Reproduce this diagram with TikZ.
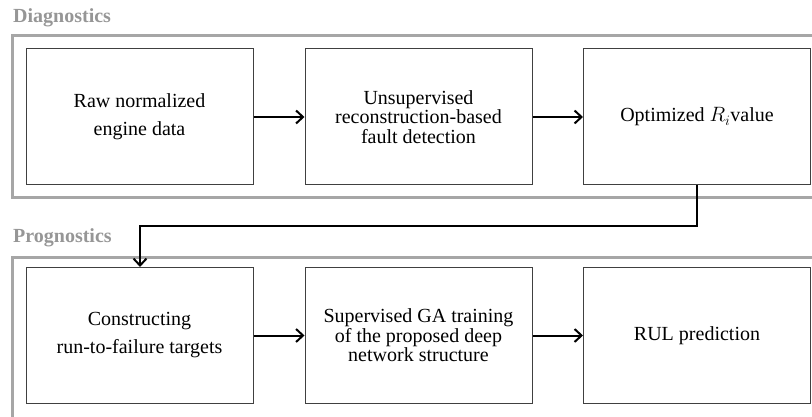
\documentclass[tikz,border=0pt]{standalone}
\usepackage{fontspec}
\setmainfont{Liberation Serif}
\usetikzlibrary{arrows.meta}

\definecolor{frame-gray}{RGB}{166,166,166}
\definecolor{label-gray}{RGB}{150,150,150}
\definecolor{box-gray}{RGB}{64,64,64}

\tikzset{
    stage/.style={draw=box-gray, line width=1pt, minimum width=227pt, minimum height=136pt,
        inner sep=0pt, align=center, font=\fontsize{20}{28}\selectfont},
    tight/.style={font=\fontsize{20}{19.5}\selectfont},
    group-frame/.style={draw=frame-gray, line width=3pt},
    group-label/.style={anchor=base west, inner sep=0pt, text=label-gray,
        font=\fontsize{20}{24}\selectfont\bfseries},
    flow/.style={line width=2pt, -{Straight Barb[length=7pt,width=13pt]}}
}

\begin{document}
\begin{tikzpicture}[x=1pt, y=-1pt]
        \useasboundingbox (0, 0) rectangle (812, 417);
        \clip (0, 0) rectangle (812, 417);

        % group frames, open to the right and bottom
        \draw[group-frame] (12, 36) rectangle (840, 198);
        \node[group-label] (diagnostics-label) at (13, 23) {Diagnostics};

        \draw[group-frame] (12, 257) rectangle (840, 450);
        \node[group-label] (prognostics-label) at (13, 243) {Prognostics};

        % diagnostics row
        \node[stage] (raw-data) at (139.5, 117) {Raw normalized\\engine data};
        \node[stage, tight] (fault-detection) at (418.5, 117) {Unsupervised\\reconstruction-based\\fault detection};
        \node[stage] (ri-value) at (697, 117) {Optimized $R_i$value};

        % prognostics row
        \node[stage] (rtf-targets) at (139.5, 335.5) {Constructing\\run-to-failure targets};
        \node[stage, tight] (ga-training) at (418.5, 335.5) {Supervised GA training\\of the proposed deep\\network structure};
        \node[stage] (rul-prediction) at (697, 335.5) {RUL prediction};

        \draw[flow] (raw-data) -- (fault-detection);
        \draw[flow] (fault-detection) -- (ri-value);
        \draw[flow] (rtf-targets) -- (ga-training);
        \draw[flow] (ga-training) -- (rul-prediction);

        \coordinate (bend-right) at (697, 226);
        \coordinate (bend-left) at (140, 226);
        \draw[flow] (ri-value.south) -- (bend-right) -- (bend-left) -- (bend-left |- rtf-targets.north);

    \end{tikzpicture}
\end{document}
